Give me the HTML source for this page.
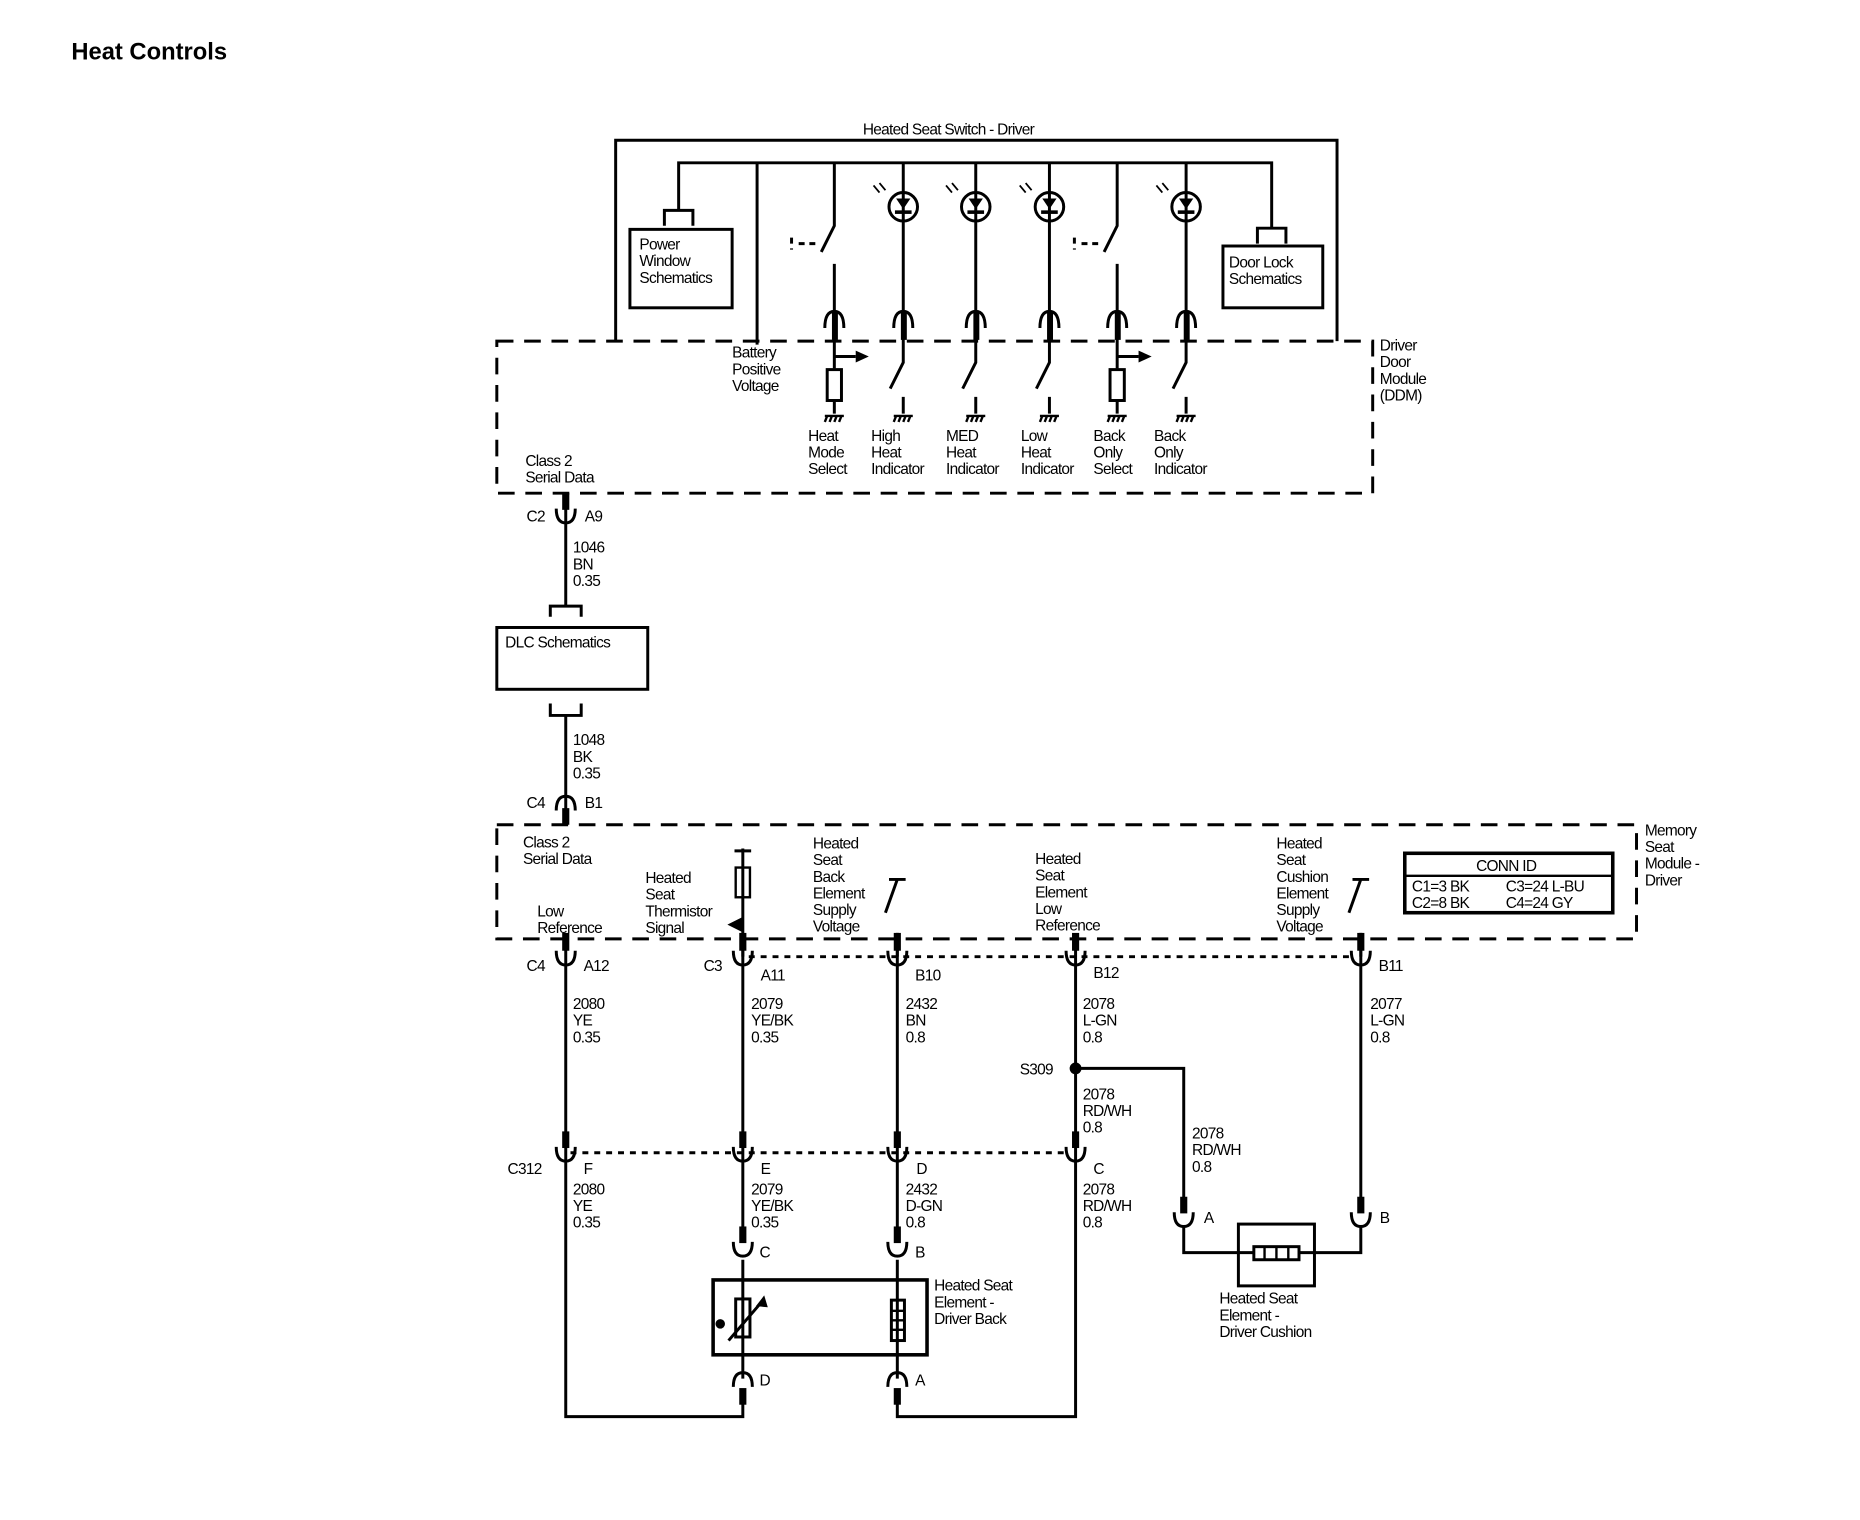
<!DOCTYPE html>
<html><head><meta charset="utf-8"><style>
html,body{margin:0;padding:0;background:#fff}
svg{display:block}
text{font-family:"Liberation Sans",sans-serif;font-size:13px;fill:#000;letter-spacing:-0.6px}
.t{font-size:20px;font-weight:bold;letter-spacing:0}
</style></head><body>
<svg width="1860" height="1520" viewBox="0 0 1565 1279" xmlns="http://www.w3.org/2000/svg">
<g fill="none" stroke="#000" stroke-width="2.5">
<polyline points="518,287 518,118 1125,118 1125,287"/>
<polyline points="571,177 571,137 1070,137 1070,192"/>
<path d="M559,190 V177 H583 V190 M1058,205 V192 H1082 V205"/>
<rect x="530" y="193" width="86" height="66"/>
<rect x="1029" y="207" width="84" height="52"/>
<line x1="637" y1="137" x2="637" y2="290"/>
<path d="M702,137 V190 L691,212 M702,222 V262 M940,137 V190 L929,212 M940,222 V262"/>
<path d="M666,200 V210 M672,205 H690 M904,200 V210 M910,205 H928" stroke-dasharray="5,4"/>
<path d="M760,137 V262 M821,137 V262 M883,137 V262 M998,137 V262"/>
<circle cx="760" cy="174" r="12"/><circle cx="821" cy="174" r="12"/><circle cx="883" cy="174" r="12"/><circle cx="998" cy="174" r="12"/>
<path d="M694,276 Q694,262 702,262 Q710,262 710,276 M752,276 Q752,262 760,262 Q768,262 768,276 M813,276 Q813,262 821,262 Q829,262 829,276 M875,276 Q875,262 883,262 Q891,262 891,276 M932,276 Q932,262 940,262 Q948,262 948,276 M990,276 Q990,262 998,262 Q1006,262 1006,276"/>
<rect x="418" y="287" width="737" height="128" stroke-dasharray="14,9"/>
<path d="M702,268 V310 M702,300 H720 M702,338 V348 M940,268 V310 M940,300 H958 M940,338 V348"/>
<rect x="696" y="311" width="12" height="26"/><rect x="934" y="311" width="12" height="26"/>
<path d="M760,268 V305 L749,327 M760,334 V348 M821,268 V305 L810,327 M821,334 V348 M883,268 V305 L872,327 M883,334 V348 M998,268 V305 L987,327 M998,334 V348"/>
</g>
<g fill="#000">
<polygon points="720,295 731,300 720,305"/><polygon points="958,295 969,300 958,305"/>
<path d="M754,167 h12 l-6,9z M815,167 h12 l-6,9z M877,167 h12 l-6,9z M992,167 h12 l-6,9z"/>
<rect x="753" y="177" width="14" height="3"/><rect x="814" y="177" width="14" height="3"/><rect x="876" y="177" width="14" height="3"/><rect x="991" y="177" width="14" height="3"/>
<rect x="700" y="262" width="5" height="24"/><rect x="758" y="262" width="5" height="24"/><rect x="819" y="262" width="5" height="24"/><rect x="881" y="262" width="5" height="24"/><rect x="938" y="262" width="5" height="24"/><rect x="996" y="262" width="5" height="24"/>
</g>
<g stroke="#000" stroke-width="2" fill="none">
<path d="M694,350 H710 M696,350 l-2,5 M700,350 l-2,5 M704,350 l-2,5 M708,350 l-2,5"/>
<path d="M752,350 H768 M754,350 l-2,5 M758,350 l-2,5 M762,350 l-2,5 M766,350 l-2,5"/>
<path d="M813,350 H829 M815,350 l-2,5 M819,350 l-2,5 M823,350 l-2,5 M827,350 l-2,5"/>
<path d="M875,350 H891 M877,350 l-2,5 M881,350 l-2,5 M885,350 l-2,5 M889,350 l-2,5"/>
<path d="M932,350 H948 M934,350 l-2,5 M938,350 l-2,5 M942,350 l-2,5 M946,350 l-2,5"/>
<path d="M990,350 H1006 M992,350 l-2,5 M996,350 l-2,5 M1000,350 l-2,5 M1004,350 l-2,5"/>
<path d="M745,160 l-5,-6 M740,162 l-5,-6 M806,160 l-5,-6 M801,162 l-5,-6 M868,160 l-5,-6 M863,162 l-5,-6 M983,160 l-5,-6 M978,162 l-5,-6" stroke-width="1.5"/>
</g>
<g fill="none" stroke="#000" stroke-width="2.5">
<path d="M476,415 V510 M463,519 V510 H489 V519"/>
<path d="M468,428 Q468,440 476,440 Q484,440 484,428"/>
<rect x="418" y="528" width="127" height="52"/>
<path d="M463,592 V602 H489 V592 M476,602 V694"/>
<path d="M468,682 Q468,670 476,670 Q484,670 484,682"/>
<rect x="418" y="694" width="959" height="96" stroke-dasharray="14,9"/>
<rect x="1182" y="718" width="175" height="50" stroke-width="3"/>
<line x1="1182" y1="737" x2="1357" y2="737" stroke-width="2"/>
<path d="M625,714 V805 M618,716 H632"/>
<rect x="619" y="730" width="12" height="25" stroke-width="2"/>
<path d="M755,740 L745,768 M755,785 V805 M748,740 H762 M1145,740 L1135,768 M1145,785 V805 M1138,740 H1152"/>
<path d="M476,790 V1192 H625 V1172 M625,790 V1045 M755,790 V1045 M905,790 V1192 H755 V1172 M1145,790 V1020 M905,899 H996 V1020"/>
<path d="M625,1060 V1160 M755,1060 V1160"/>
<path d="M630,805 H1140 M480,970 H900" stroke-dasharray="5,5"/>
<path d="M468,800 Q468,812 476,812 Q484,812 484,800 M617,800 Q617,812 625,812 Q633,812 633,800 M747,800 Q747,812 755,812 Q763,812 763,800 M897,800 Q897,812 905,812 Q913,812 913,800 M1137,800 Q1137,812 1145,812 Q1153,812 1153,800"/>
<path d="M468,965 Q468,977 476,977 Q484,977 484,965 M617,965 Q617,977 625,977 Q633,977 633,965 M747,965 Q747,977 755,977 Q763,977 763,965 M897,965 Q897,977 905,977 Q913,977 913,965"/>
<path d="M617,1045 Q617,1057 625,1057 Q633,1057 633,1045 M747,1045 Q747,1057 755,1057 Q763,1057 763,1045 M988,1020 Q988,1032 996,1032 Q1004,1032 1004,1020 M1137,1020 Q1137,1032 1145,1032 Q1153,1032 1153,1020"/>
<path d="M617,1167 Q617,1155 625,1155 Q633,1155 633,1167 M747,1167 Q747,1155 755,1155 Q763,1155 763,1167"/>
<rect x="600" y="1077" width="180" height="63" stroke-width="3"/>
<rect x="619" y="1093" width="12" height="32"/>
<line x1="613" y1="1128" x2="643" y2="1093"/>
<rect x="750" y="1094" width="11" height="34"/>
<path d="M750,1103 H761 M750,1111 H761 M750,1119 H761" stroke-width="2"/>
<rect x="1042" y="1030" width="64" height="52"/>
<path d="M996,1032 V1054 H1145 V1032"/>
<rect x="1055" y="1049" width="38" height="11" fill="#fff"/>
<path d="M1064,1049 V1060 M1074,1049 V1060 M1084,1049 V1060" stroke-width="2"/>
</g>
<g fill="#000">
<polygon points="643,1090 636,1099 646,1100"/>
<circle cx="905" cy="899" r="5"/>
<circle cx="606" cy="1114" r="4"/>
<polygon points="624,772 612,778 624,784"/>
<rect x="473" y="785" width="6" height="15"/><rect x="622" y="785" width="6" height="15"/><rect x="752" y="785" width="6" height="15"/><rect x="902" y="785" width="6" height="15"/><rect x="1142" y="785" width="6" height="15"/>
<rect x="473" y="952" width="6" height="14"/><rect x="622" y="952" width="6" height="14"/><rect x="752" y="952" width="6" height="14"/><rect x="902" y="952" width="6" height="14"/>
<rect x="622" y="1032" width="6" height="14"/><rect x="752" y="1032" width="6" height="14"/><rect x="993" y="1007" width="6" height="14"/><rect x="1142" y="1007" width="6" height="14"/>
<rect x="622" y="1168" width="6" height="14"/><rect x="752" y="1168" width="6" height="14"/>
<rect x="473" y="415" width="6" height="14"/><rect x="473" y="680" width="6" height="14"/>
</g>
<text x="60" y="50" class="t">Heat Controls</text>
<text x="726" y="113">Heated Seat Switch - Driver</text>
<text x="538" y="210">Power</text><text x="538" y="224">Window</text><text x="538" y="238">Schematics</text>
<text x="1034" y="225">Door Lock</text><text x="1034" y="239">Schematics</text>
<text x="616" y="301">Battery</text><text x="616" y="315">Positive</text><text x="616" y="329">Voltage</text>
<text x="1161" y="295">Driver</text><text x="1161" y="309">Door</text><text x="1161" y="323">Module</text><text x="1161" y="337">(DDM)</text>
<text x="680" y="371">Heat</text><text x="680" y="385">Mode</text><text x="680" y="399">Select</text>
<text x="733" y="371">High</text><text x="733" y="385">Heat</text><text x="733" y="399">Indicator</text>
<text x="796" y="371">MED</text><text x="796" y="385">Heat</text><text x="796" y="399">Indicator</text>
<text x="859" y="371">Low</text><text x="859" y="385">Heat</text><text x="859" y="399">Indicator</text>
<text x="920" y="371">Back</text><text x="920" y="385">Only</text><text x="920" y="399">Select</text>
<text x="971" y="371">Back</text><text x="971" y="385">Only</text><text x="971" y="399">Indicator</text>
<text x="442" y="392">Class 2</text><text x="442" y="406">Serial Data</text>
<text x="443" y="439">C2</text><text x="492" y="439">A9</text>
<text x="482" y="465">1046</text><text x="482" y="479">BN</text><text x="482" y="493">0.35</text>
<text x="425" y="545">DLC Schematics</text>
<text x="482" y="627">1048</text><text x="482" y="641">BK</text><text x="482" y="655">0.35</text>
<text x="443" y="680">C4</text><text x="492" y="680">B1</text>
<text x="1384" y="703">Memory</text><text x="1384" y="717">Seat</text><text x="1384" y="731">Module -</text><text x="1384" y="745">Driver</text>
<text x="440" y="713">Class 2</text><text x="440" y="727">Serial Data</text>
<text x="452" y="771">Low</text><text x="452" y="785">Reference</text>
<text x="543" y="743">Heated</text><text x="543" y="757">Seat</text><text x="543" y="771">Thermistor</text><text x="543" y="785">Signal</text>
<text x="684" y="714">Heated</text><text x="684" y="728">Seat</text><text x="684" y="742">Back</text><text x="684" y="756">Element</text><text x="684" y="770">Supply</text><text x="684" y="784">Voltage</text>
<text x="871" y="727">Heated</text><text x="871" y="741">Seat</text><text x="871" y="755">Element</text><text x="871" y="769">Low</text><text x="871" y="783">Reference</text>
<text x="1074" y="714">Heated</text><text x="1074" y="728">Seat</text><text x="1074" y="742">Cushion</text><text x="1074" y="756">Element</text><text x="1074" y="770">Supply</text><text x="1074" y="784">Voltage</text>
<text x="1242" y="733">CONN ID</text>
<text x="1188" y="750">C1=3 BK</text><text x="1267" y="750">C3=24 L-BU</text>
<text x="1188" y="764">C2=8 BK</text><text x="1267" y="764">C4=24 GY</text>
<text x="443" y="817">C4</text><text x="491" y="817">A12</text>
<text x="592" y="817">C3</text><text x="640" y="825">A11</text>
<text x="770" y="825">B10</text><text x="920" y="823">B12</text><text x="1160" y="817">B11</text>
<text x="482" y="849">2080</text><text x="482" y="863">YE</text><text x="482" y="877">0.35</text>
<text x="632" y="849">2079</text><text x="632" y="863">YE/BK</text><text x="632" y="877">0.35</text>
<text x="762" y="849">2432</text><text x="762" y="863">BN</text><text x="762" y="877">0.8</text>
<text x="911" y="849">2078</text><text x="911" y="863">L-GN</text><text x="911" y="877">0.8</text>
<text x="1153" y="849">2077</text><text x="1153" y="863">L-GN</text><text x="1153" y="877">0.8</text>
<text x="858" y="904">S309</text>
<text x="911" y="925">2078</text><text x="911" y="939">RD/WH</text><text x="911" y="953">0.8</text>
<text x="1003" y="958">2078</text><text x="1003" y="972">RD/WH</text><text x="1003" y="986">0.8</text>
<text x="427" y="988">C312</text><text x="491" y="988">F</text><text x="640" y="988">E</text><text x="771" y="988">D</text><text x="920" y="988">C</text>
<text x="482" y="1005">2080</text><text x="482" y="1019">YE</text><text x="482" y="1033">0.35</text>
<text x="632" y="1005">2079</text><text x="632" y="1019">YE/BK</text><text x="632" y="1033">0.35</text>
<text x="762" y="1005">2432</text><text x="762" y="1019">D-GN</text><text x="762" y="1033">0.8</text>
<text x="911" y="1005">2078</text><text x="911" y="1019">RD/WH</text><text x="911" y="1033">0.8</text>
<text x="1013" y="1029">A</text><text x="1161" y="1029">B</text>
<text x="639" y="1058">C</text><text x="770" y="1058">B</text>
<text x="639" y="1166">D</text><text x="770" y="1166">A</text>
<text x="786" y="1086">Heated Seat</text><text x="786" y="1100">Element -</text><text x="786" y="1114">Driver Back</text>
<text x="1026" y="1097">Heated Seat</text><text x="1026" y="1111">Element -</text><text x="1026" y="1125">Driver Cushion</text>
</svg>
</body></html>
